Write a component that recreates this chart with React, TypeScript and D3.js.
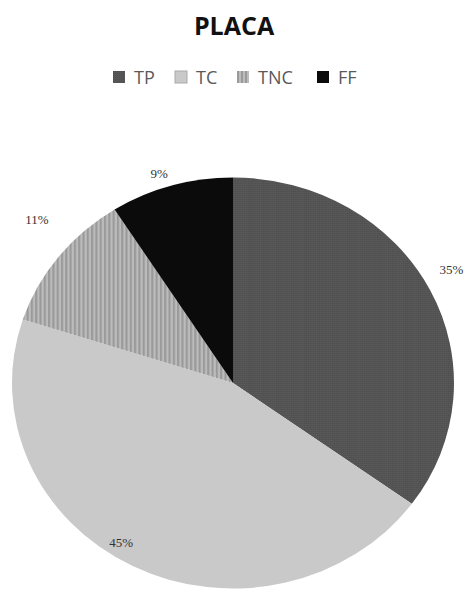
import React, { useEffect, useRef } from 'react'
import * as d3 from 'd3'

// data
const categories = ['TP', 'TC', 'TNC', 'FF']
const values = [35, 45, 11, 9]
const labels = ['35%', '45%', '11%', '9%']

const W = 468
const H = 592

const App = () => {
  const svgRef = useRef<SVGSVGElement>(null)

  useEffect(() => {
    const svg = d3.select(svgRef.current)
    svg.selectAll('*').remove()

    const defs = svg.append('defs')
    // fine texture for TP
    const pTp = defs
      .append('pattern')
      .attr('id', 'pat-tp')
      .attr('patternUnits', 'userSpaceOnUse')
      .attr('width', 2)
      .attr('height', 2)
    pTp.append('rect').attr('width', 2).attr('height', 2).attr('fill', '#575757')
    pTp.append('rect').attr('width', 1).attr('height', 1).attr('fill', '#4c4c4c')
    // vertical stripes for TNC
    const pTnc = defs
      .append('pattern')
      .attr('id', 'pat-tnc')
      .attr('patternUnits', 'userSpaceOnUse')
      .attr('width', 4)
      .attr('height', 10)
    pTnc.append('rect').attr('width', 4).attr('height', 10).attr('fill', '#bcbcbc')
    pTnc.append('rect').attr('width', 2).attr('height', 10).attr('fill', '#9a9a9a')

    const fills = ['url(#pat-tp)', '#c9c9c9', 'url(#pat-tnc)', '#0b0b0b']
    const color = d3.scaleOrdinal<string, string>().domain(categories).range(fills)

    // title
    svg
      .append('text')
      .attr('x', 234)
      .attr('y', 35)
      .attr('text-anchor', 'middle')
      .attr('font-family', 'Open Sans')
      .attr('font-weight', 'bold')
      .attr('font-size', 25)
      .attr('fill', '#111')
      .text('PLACA')

    // legend
    const legendX = [113, 175, 237, 317]
    const lg = svg.append('g').attr('font-family', 'Open Sans').attr('font-size', 18)
    categories.forEach((c, i) => {
      const g = lg.append('g').attr('transform', `translate(${legendX[i]},77)`)
      g.append('rect')
        .attr('x', 0)
        .attr('y', -6)
        .attr('width', 12)
        .attr('height', 12)
        .attr('fill', color(c))
        .attr('stroke', i === 1 ? '#aaa' : 'none')
      g.append('text')
        .attr('x', 21)
        .attr('y', 7)
        .attr('fill', '#595959')
        .text(c)
    })

    // pie
    const cx = 233
    const cy = 383
    const ry = 205.5
    const rx = 221
    const pie = d3
      .pie<number>()
      .sort(null)
      .value((d) => d)
    const arcs = pie(values)
    const arc = d3.arc<d3.PieArcDatum<number>>().innerRadius(0).outerRadius(ry)

    const pg = svg
      .append('g')
      .attr('transform', `translate(${cx},${cy}) scale(${rx / ry},1)`)
    pg.selectAll('path')
      .data(arcs)
      .join('path')
      .attr('d', arc)
      .attr('fill', (d, i) => color(categories[i]))

    // labels (best fit-ish: big slice inside, others outside)
    const labelR = [1.13, 0.93, 1.19, 1.07]
    const labelShift = [-2, 6, 4, -2]
    svg
      .append('g')
      .attr('font-family', 'Liberation Serif')
      .attr('font-size', 13)
      .attr('fill', '#333')
      .attr('text-anchor', 'middle')
      .selectAll('text')
      .data(arcs)
      .join('text')
      .attr('x', (d, i) => {
        const a = (d.startAngle + d.endAngle) / 2 + (labelShift[i] * Math.PI) / 180
        return cx + Math.sin(a) * rx * labelR[i]
      })
      .attr('y', (d, i) => {
        const a = (d.startAngle + d.endAngle) / 2 + (labelShift[i] * Math.PI) / 180
        return cy - Math.cos(a) * ry * labelR[i] + 4
      })
      .text((d, i) => labels[i])
  }, [])

  return (
    <svg
      ref={svgRef}
      width={W}
      height={H}
      style={{ position: 'absolute', left: 0, top: 0, background: '#fff' }}
    ></svg>
  )
}

export default App
